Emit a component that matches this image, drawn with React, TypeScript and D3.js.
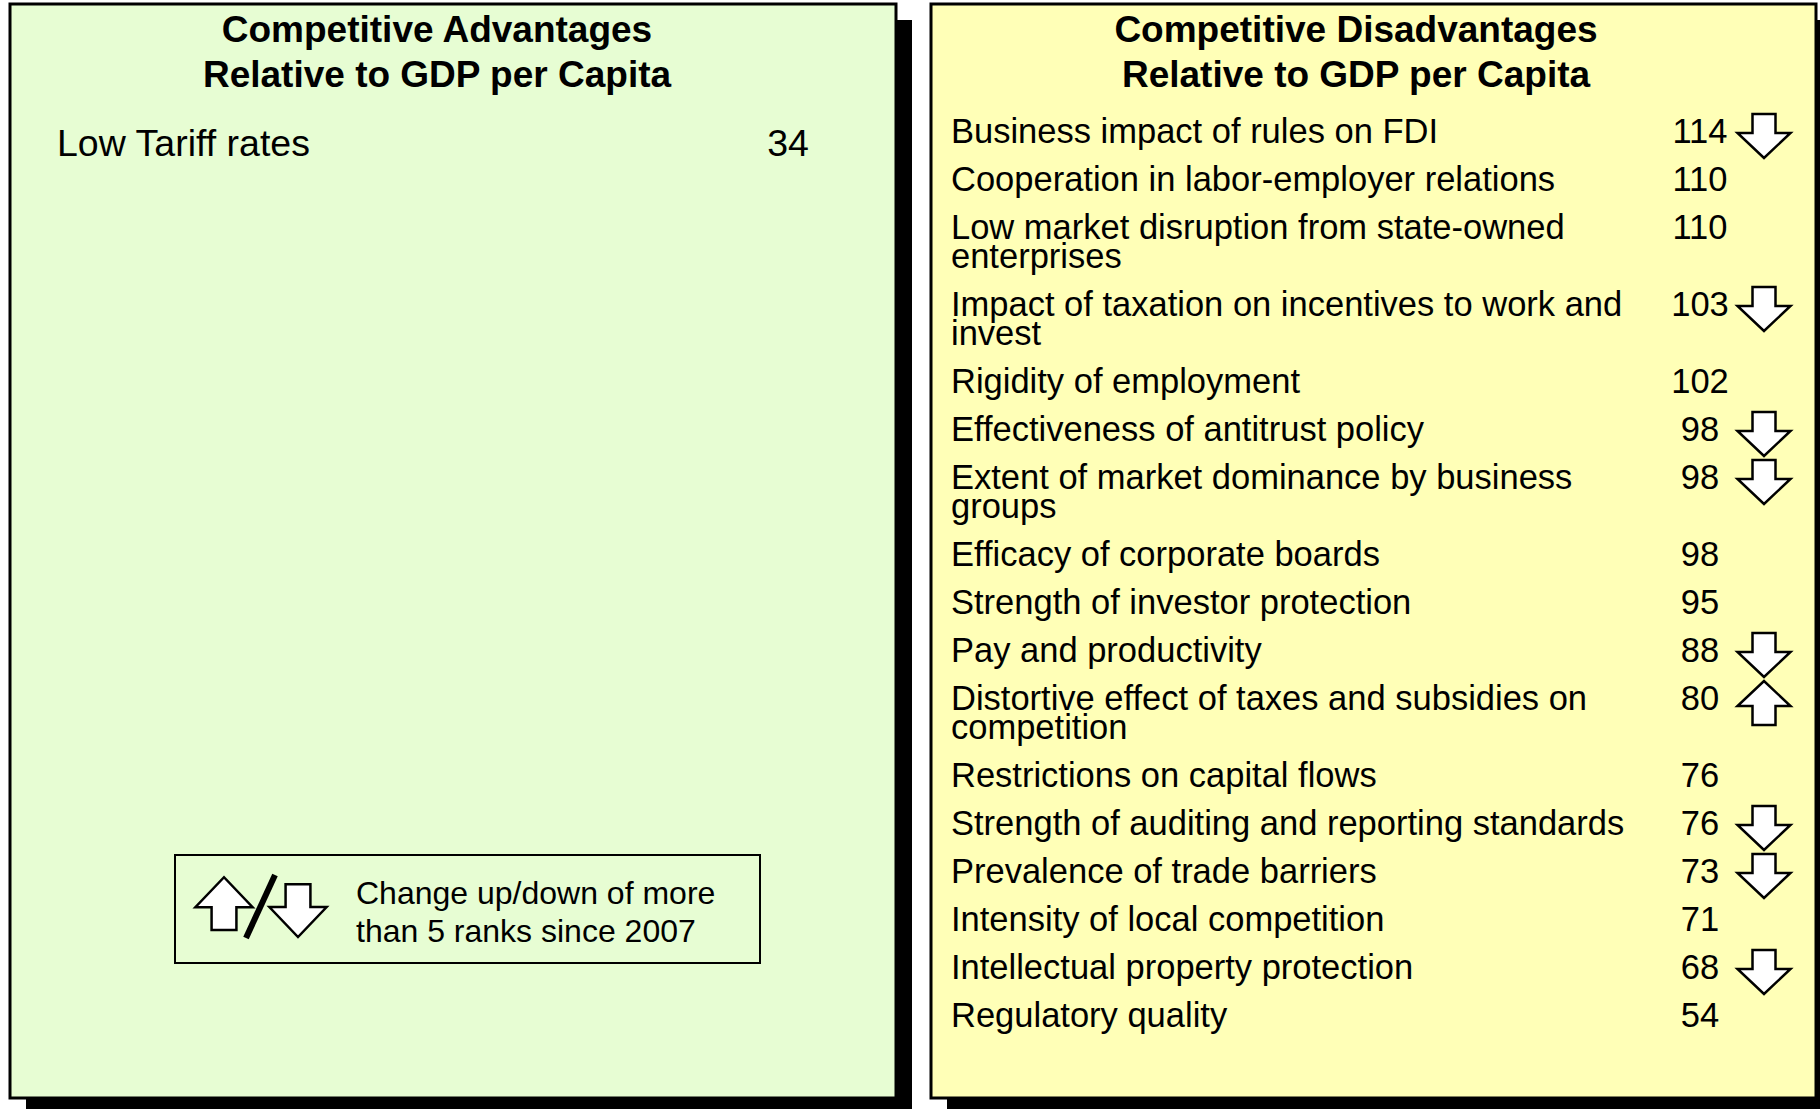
import React from 'react';
import * as d3 from 'd3';

// ranks data
const advTitle = ['Competitive Advantages', 'Relative to GDP per Capita'];
const advLabels = [['Low Tariff rates']];
const advRanks = [34];
const advChange: (string | null)[] = [null];

const disTitle = ['Competitive Disadvantages', 'Relative to GDP per Capita'];
const disLabels = [
  ['Business impact of rules on FDI'],
  ['Cooperation in labor-employer relations'],
  ['Low market disruption from state-owned', 'enterprises'],
  ['Impact of taxation on incentives to work and', 'invest'],
  ['Rigidity of employment'],
  ['Effectiveness of antitrust policy'],
  ['Extent of market dominance by business', 'groups'],
  ['Efficacy of corporate boards'],
  ['Strength of investor protection'],
  ['Pay and productivity'],
  ['Distortive effect of taxes and subsidies on', 'competition'],
  ['Restrictions on capital flows'],
  ['Strength of auditing and reporting standards'],
  ['Prevalence of trade barriers'],
  ['Intensity of local competition'],
  ['Intellectual property protection'],
  ['Regulatory quality'],
];
const disRanks = [114, 110, 110, 103, 102, 98, 98, 98, 95, 88, 80, 76, 76, 73, 71, 68, 54];
const disChange: (string | null)[] = [
  'down', null, null, 'down', null, 'down', 'down', null, null, 'down', 'up', null, 'down', 'down', null, 'down', null,
];

const legendLines = ['Change up/down of more', 'than 5 ranks since 2007'];

const FONT = 'Liberation Sans, Arial, sans-serif';

// block arrow centred on (0,0)
const arrowPath = (dir: string) => {
  const sw = 11.5, hw = 26.5, top = -29, shoulder = -10, tip = 15;
  const p = d3.path();
  if (dir === 'down') {
    p.moveTo(-sw, top);
    p.lineTo(sw, top);
    p.lineTo(sw, shoulder);
    p.lineTo(hw, shoulder);
    p.lineTo(0, tip);
    p.lineTo(-hw, shoulder);
    p.lineTo(-sw, shoulder);
  } else {
    p.moveTo(-sw, tip);
    p.lineTo(sw, tip);
    p.lineTo(sw, top + 25);
    p.lineTo(hw, top + 25);
    p.lineTo(0, top);
    p.lineTo(-hw, top + 25);
    p.lineTo(-sw, top + 25);
  }
  p.closePath();
  return p.toString();
};

const Arrow = ({ dir, x, y, sx = 1, sy = 1 }: { dir: string; x: number; y: number; sx?: number; sy?: number }) => (
  <path
    d={arrowPath(dir)}
    transform={`translate(${x},${y}) scale(${sx},${sy})`}
    fill="#fff"
    stroke="#000"
    strokeWidth={2.5}
    vectorEffect="non-scaling-stroke"
  />
);

type PanelProps = {
  x: number;
  width: number;
  fill: string;
  title: string[];
  titleX: number;
  labels: string[][];
  ranks: number[];
  changes: (string | null)[];
  labelX: number;
  rankX: number;
  arrowX: number;
  firstY: number;
  fontSize: number;
  children?: React.ReactNode;
};

const Panel = (p: PanelProps) => {
  const top = 4, bottom = 1098;
  const lineH = 29;
  // extra wrapped lines before each row
  const extra = d3.cumsum([0, ...p.labels.map((l) => l.length - 1)]);
  const rowY = d3.scaleLinear().domain([0, 1]).range([p.firstY, p.firstY + 48]);
  const wrapY = (i: number) => rowY(i) + extra[i] * lineH;
  return (
    <g>
      <rect x={p.x + 16} y={top + 16} width={p.width} height={bottom - top} fill="#000" />
      <rect x={p.x} y={top} width={p.width} height={bottom - top} fill={p.fill} stroke="#000" strokeWidth={3} />
      {p.title.map((t, i) => (
        <text key={i} x={p.titleX} y={42 + i * 45} textAnchor="middle" fontFamily={FONT} fontWeight="bold" fontSize={37}>
          {t}
        </text>
      ))}
      {p.labels.map((lines, i) => (
        <g key={i}>
          {lines.map((ln, j) => (
            <text key={j} x={p.labelX} y={wrapY(i) + j * lineH} fontFamily={FONT} fontSize={p.fontSize}>
              {ln}
            </text>
          ))}
          <text x={p.rankX} y={wrapY(i)} textAnchor="middle" fontFamily={FONT} fontSize={p.fontSize}>
            {p.ranks[i]}
          </text>
          {p.changes[i] && <Arrow dir={p.changes[i] as string} x={p.arrowX} y={wrapY(i)} />}
        </g>
      ))}
      {p.children}
    </g>
  );
};

export default function App() {
  return (
    <svg width={1820} height={1109} style={{ position: 'absolute', left: 0, top: 0 }}>
      <rect width={1820} height={1109} fill="#fff" />
      <Panel
        x={10}
        width={886}
        fill="#E7FDD3"
        title={advTitle}
        titleX={437}
        labels={advLabels}
        ranks={advRanks}
        changes={advChange}
        labelX={57}
        rankX={788}
        arrowX={860}
        firstY={156}
        fontSize={37.5}
      >
        <rect x={175} y={855} width={585} height={108} fill="none" stroke="#000" strokeWidth={2} />
        <Arrow dir="up" x={224} y={912} sx={1.08} sy={1.2} />
        <line x1={275} y1={875} x2={246} y2={938} stroke="#000" strokeWidth={6} />
        <Arrow dir="down" x={298} y={919} sx={1.08} sy={1.2} />
        {legendLines.map((t, i) => (
          <text key={i} x={356} y={904 + i * 38} fontFamily={FONT} fontSize={32}>
            {t}
          </text>
        ))}
      </Panel>
      <Panel
        x={931}
        width={885}
        fill="#FFFFB7"
        title={disTitle}
        titleX={1356}
        labels={disLabels}
        ranks={disRanks}
        changes={disChange}
        labelX={951}
        rankX={1700}
        arrowX={1764}
        firstY={143}
        fontSize={34.5}
      />
    </svg>
  );
}
